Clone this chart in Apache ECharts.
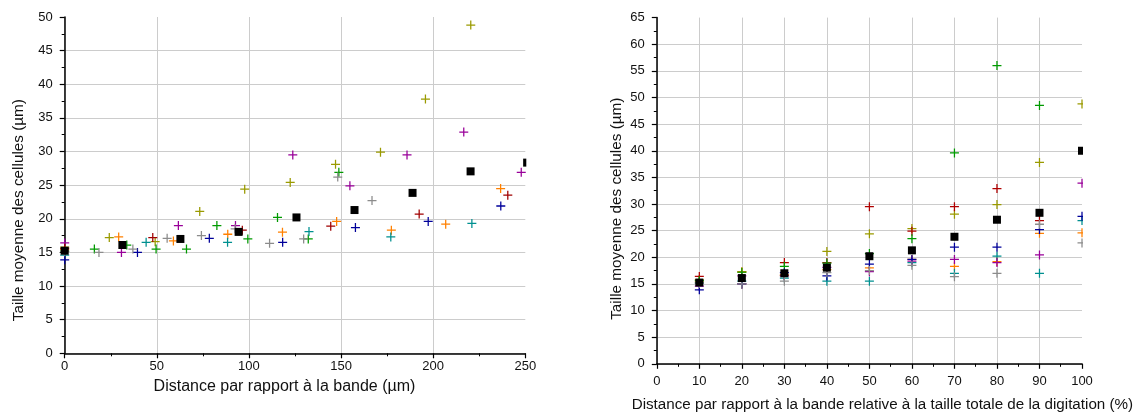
<!DOCTYPE html>
<html><head><meta charset="utf-8">
<script src="https://cdn.jsdelivr.net/npm/echarts@6/dist/echarts.min.js"></script>
<style>html,body{margin:0;padding:0;background:#fff}#c{width:1140px;height:414px}</style>
</head><body><div id="c"></div>
<script>
// Relative positions (% of digitation length) used by the right chart
const pct = [10, 20, 30, 40, 50, 60, 70, 80, 90, 100];

// Mean cell size (µm) of each digitation, one value per relative position
const valOlive  = [15.8, 17.2, 16.6, 21.1, 24.4, 25.4, 28.1, 29.9, 37.8, 48.8];
const valOrange = [15.4, 17.3, 16.7, 17.7, 18.0, 19.6, 18.3, 19.2, 24.5, 24.6];
const valS3     = [16.4, 15.0, 19.0, 19.0, 29.5, 24.9, 29.5, 32.9, 26.9, null];
const valS4     = [15.2, 15.5, 16.1, 15.5, 15.5, 19.0, 17.0, 20.2, 17.0, 26.9];
const valS5     = [14.6, 16.5, 16.5, 18.1, 17.3, 19.3, 19.6, 19.0, 20.45, 33.9];
const valS6     = [15.6, 17.2, 18.3, 18.9, 20.7, 23.5, 39.6, 56.0, 48.5, null];
const valNavy   = [13.9, 15.0, 17.1, 16.5, 18.7, 19.6, 21.9, 21.9, 25.2, 27.7];
const valGray   = [15.1, 15.0, 15.5, 17.1, 17.5, 18.5, 16.35, 17.0, 26.2, 22.7];
const valMean   = [15.25, 16.1, 17.0, 18.05, 20.2, 21.3, 23.85, 27.05, 28.35, 40.0];

// Distances from the band (µm) of the same points, used by the left chart
const distOlive  = [0, 24.2, 49.1, 73.3, 97.7, 122.4, 147.0, 171.4, 195.8, 220.4];
const distOrange = [0, 29.3, 59.0, 88.5, 118.2, 147.6, 177.3, 206.8, 236.6, 266.0];
const distS3     = [0, 30.8, 61.7, 92.7, 123.8, 154.8, 185.8, 216.6, 247.8, 278.6];
const distS4     = [0, 16.1, 33.7, 49.6, 66.1, 82.6, 99.4, 115.5, 132.2, 148.8];
const distS5     = [0, 44.2, 88.4, 132.6, 177.0, 221.0, 265.0, 309.0, 354.0, 398.0];
const distS6     = [0, 47.8, 96.4, 144.4, 192.4, 240.5, 288.6, 336.7, 384.8, 433.0];
const distNavy   = [0, 39.5, 78.5, 118.3, 157.8, 197.3, 236.7, 276.0, 315.6, 355.0];
const distGray   = [0, 18.6, 37.0, 55.6, 74.2, 92.5, 111.2, 129.7, 148.2, 166.8];
const distMean   = [0, 31.3, 62.8, 94.4, 125.8, 157.3, 188.8, 220.3, 251.0, 282.0];

// Tick settings
const leftXTicks = {min: 0, max: 250, interval: 50};
const leftYTicks = {min: 0, max: 50, interval: 5};
const rightXTicks = {min: 0, max: 100, interval: 10};
const rightYTicks = {min: 0, max: 65, interval: 5};

const titleLeftX = 'Distance par rapport à la bande (µm)';
const titleRightX = 'Distance par rapport à la bande relative à la taille totale de la digitation (%)';
const titleY = 'Taille moyenne des cellules (µm)';

const allVals = [valOlive, valOrange, valS3, valS4, valS5, valS6, valNavy, valGray];
const allDist = [distOlive, distOrange, distS3, distS4, distS5, distS6, distNavy, distGray];
const leftColors  = ['#9a9a00', '#ff8000', '#990099', '#009a00', '#009090', '#a00000', '#00009a', '#8c8c8c'];
const rightColors = ['#9a9a00', '#ff8000', '#b00000', '#009090', '#990099', '#009a00', '#00009a', '#8c8c8c'];

const FONT = 'Liberation Sans, Arial, sans-serif';
const PLUS = 'path://M0,4.3h10v1.4h-10z M4.3,0h1.4v10h-1.4z';

function axisCommon(t, nSplits, labelMargin) {
  const cols = [];
  for (let i = 0; i < nSplits; i++) cols.push('#cccccc');
  cols.push('rgba(0,0,0,0)');
  return {
    type: 'value', min: t.min, max: t.max, interval: t.interval,
    axisLine: {show: true, onZero: false, lineStyle: {color: '#000', width: 1.5}},
    axisTick: {show: true, inside: false, length: 5, lineStyle: {color: '#000', width: 1.2}},
    minorTick: {show: true, splitNumber: 2, length: 3, lineStyle: {color: '#000', width: 1}},
    splitLine: {show: true, lineStyle: {color: cols, width: 1}},
    axisLabel: {color: '#111', fontSize: 13, fontFamily: FONT, margin: labelMargin},
    nameTextStyle: {color: '#111', fontFamily: FONT, fontSize: 15.3}
  };
}

const xL = Object.assign(axisCommon(leftXTicks, 5, 7), {gridIndex: 0, name: titleLeftX, nameLocation: 'middle', nameGap: 20});
xL.nameTextStyle = Object.assign({}, xL.nameTextStyle, {fontSize: 16, padding: [0, 21, 0, 0]});
const yL = Object.assign(axisCommon(leftYTicks, 10, 12), {gridIndex: 0, name: titleY, nameLocation: 'middle', nameGap: 38});
yL.nameTextStyle = Object.assign({}, yL.nameTextStyle, {padding: [0, 50, 0, 0]});
const xR = Object.assign(axisCommon(rightXTicks, 10, 11), {gridIndex: 1, name: titleRightX, nameLocation: 'middle', nameGap: 34});
xR.nameTextStyle = Object.assign({}, xR.nameTextStyle, {fontSize: 15.2, padding: [0, 0, 0, 26]});
const yR = Object.assign(axisCommon(rightYTicks, 13, 12), {gridIndex: 1, name: titleY, nameLocation: 'middle', nameGap: 33});
yR.nameTextStyle = Object.assign({}, yR.nameTextStyle, {padding: [0, 36, 0, 0]});

const series = [];
allVals.forEach((vals, s) => {
  series.push({
    type: 'scatter', xAxisIndex: 0, yAxisIndex: 0, clip: true,
    symbol: PLUS, symbolSize: 9, itemStyle: {color: leftColors[s], opacity: 1},
    data: allDist[s].map((d, i) => [d, vals[i]]).filter(p => p[1] != null)
  });
});
series.push({
  type: 'scatter', xAxisIndex: 0, yAxisIndex: 0, clip: false, z: 5,
  symbol: 'rect', symbolSize: 8, itemStyle: {color: '#000', opacity: 1},
  data: distMean.map((d, i) => [d, valMean[i]])
});
allVals.forEach((vals, s) => {
  series.push({
    type: 'scatter', xAxisIndex: 1, yAxisIndex: 1, clip: true,
    symbol: PLUS, symbolSize: 9, itemStyle: {color: rightColors[s], opacity: 1},
    data: pct.map((p, i) => [p, vals[i]]).filter(p => p[1] != null)
  });
});
series.push({
  type: 'scatter', xAxisIndex: 1, yAxisIndex: 1, clip: true, z: 5,
  symbol: 'rect', symbolSize: 8, itemStyle: {color: '#000', opacity: 1},
  data: pct.map((p, i) => [p, valMean[i]])
});

const chart = echarts.init(document.getElementById('c'), null, {renderer: 'canvas'});
chart.setOption({
  animation: false,
  backgroundColor: '#fff',
  grid: [
    {left: 64.7, right: 614.7, top: 17, bottom: 60.7, containLabel: false, outerBoundsMode: 'none'},
    {left: 656.8, right: 58, top: 17.6, bottom: 50.2, containLabel: false, outerBoundsMode: 'none'}
  ],
  xAxis: [xL, xR],
  yAxis: [yL, yR],
  series: series,
  graphic: [
    {type: 'rect', z: 100, shape: {x: 526.3, y: 0, width: 80, height: 352}, style: {fill: '#fff'}},
    {type: 'rect', z: 100, shape: {x: 1083, y: 0, width: 57, height: 363}, style: {fill: '#fff'}}
  ]
});
</script></body></html>
